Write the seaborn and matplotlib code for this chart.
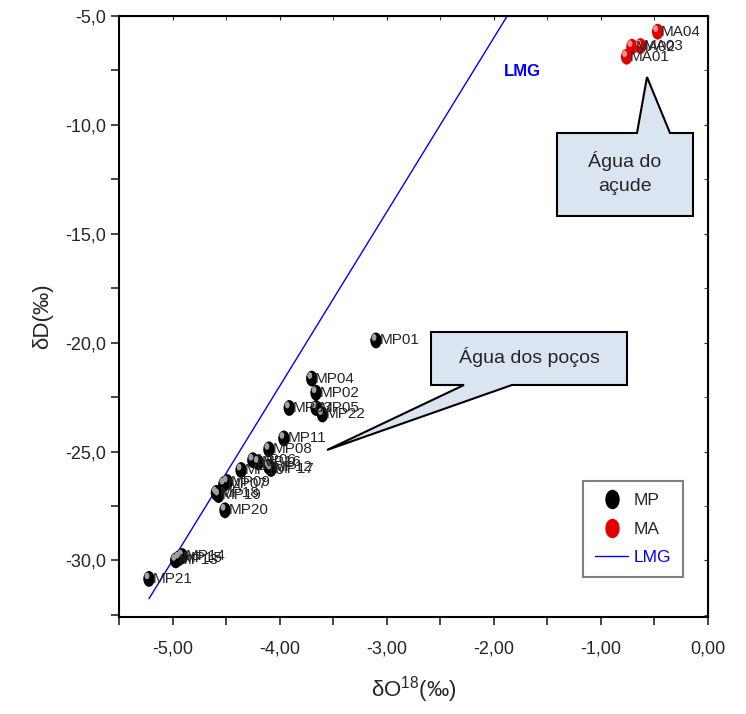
import matplotlib
matplotlib.use("Agg")
import matplotlib.pyplot as plt
import seaborn as sns
import pandas as pd
from matplotlib import font_manager
from matplotlib.path import Path
from matplotlib.patches import Polygon
from matplotlib.lines import Line2D
from matplotlib.transforms import Affine2D, offset_copy
from matplotlib.ticker import MultipleLocator, FuncFormatter

# poços (MP)
mp_labels = ["MP01", "MP02", "MP03", "MP04", "MP05", "MP06", "MP07", "MP08",
             "MP09", "MP10", "MP11", "MP12", "MP13", "MP14", "MP15", "MP16",
             "MP17", "MP18", "MP19", "MP20", "MP21", "MP22"]
mp_o18 = [-3.10, -3.66, -3.91, -3.70, -3.66, -4.25, -4.52, -4.10,
          -4.49, -4.36, -3.96, -4.10, -4.97, -4.91, -4.94, -4.20,
          -4.08, -4.59, -4.57, -4.51, -5.22, -3.60]
mp_d = [-19.9, -22.3, -23.0, -21.65, -23.0, -25.4, -26.5, -24.9,
        -26.4, -25.85, -24.4, -25.7, -30.0, -29.8, -29.9, -25.5,
        -25.8, -26.9, -27.0, -27.7, -30.85, -23.3]

# açude (MA)
ma_labels = ["MA01", "MA02", "MA03", "MA04"]
ma_o18 = [-0.76, -0.71, -0.63, -0.47]
ma_d = [-6.87, -6.41, -6.38, -5.72]

# reta meteórica (LMG)
lmg_o18 = [-5.22, -1.875]
lmg_d = [-31.76, -5.0]

mp = pd.DataFrame({"o18": mp_o18, "d": mp_d, "label": mp_labels})
ma = pd.DataFrame({"o18": ma_o18, "d": ma_d, "label": ma_labels})
lmg = pd.DataFrame({"o18": lmg_o18, "d": lmg_d})

sns.set_style("ticks")
names = {f.name for f in font_manager.fontManager.ttflist}
narrow = "Liberation Sans Narrow" if "Liberation Sans Narrow" in names else "Liberation Sans"
plt.rcParams["font.family"] = ["Liberation Sans", "DejaVu Sans"]
plt.rcParams["mathtext.default"] = "regular"

fig = plt.figure(figsize=(7.46, 7.14), dpi=100)
ax = fig.add_axes([119 / 746, 1 - 617 / 714, 589 / 746, 601 / 714])

ell = Path.unit_circle().transformed(Affine2D().scale(0.72, 1.0))
hl = offset_copy(ax.transData, fig=fig, x=-2, y=3, units="dots")

sns.lineplot(data=lmg, x="o18", y="d", color="blue", lw=1, ax=ax, zorder=2)

sns.scatterplot(data=mp, x="o18", y="d", marker=ell, s=130, color="black",
                edgecolor="none", ax=ax, zorder=3)
ax.scatter(mp["o18"], mp["d"], marker=ell, s=24, color="#a0a0a0",
           edgecolor="none", transform=hl, zorder=4)
sns.scatterplot(data=ma, x="o18", y="d", marker=ell, s=130, color="#e00000",
                edgecolor="none", ax=ax, zorder=3)
ax.scatter(ma["o18"], ma["d"], marker=ell, s=24, color="#ff9090",
           edgecolor="none", transform=hl, zorder=4)

for df in (mp, ma):
    for x, y, t in zip(df["o18"], df["d"], df["label"]):
        ax.annotate(t, (x, y), xytext=(2.5, 0), textcoords="offset points",
                    va="center", ha="left", fontsize=11, family=narrow,
                    zorder=5)

ax.text(-1.73, -7.55, "LMG", color="blue", fontsize=12, fontweight="bold",
        family=narrow, ha="center", va="center")

ax.set_xlim(-5.5, 0)
ax.set_ylim(-32.6, -5.0)
ax.xaxis.set_major_locator(MultipleLocator(1.0))
ax.xaxis.set_minor_locator(MultipleLocator(0.5))
ax.yaxis.set_major_locator(MultipleLocator(5.0))
ax.yaxis.set_minor_locator(MultipleLocator(2.5))
ax.xaxis.set_major_formatter(FuncFormatter(lambda v, p: f"{v:.2f}".replace(".", ",")))
ax.yaxis.set_major_formatter(FuncFormatter(lambda v, p: f"{v:.1f}".replace(".", ",")))
ax.tick_params(which="both", direction="out", top=False, right=False, width=1.2,
               labelsize=13, length=6)
ax.tick_params(axis="x", pad=11)
ax.tick_params(axis="y", pad=3)
for lab in ax.get_xticklabels() + ax.get_yticklabels():
    lab.set_family(narrow)
sec = ax.secondary_xaxis("top")
sec.set_xticks([-5, -4, -3, -2, -1, 0], labels=[])
sec.xaxis.set_minor_locator(MultipleLocator(0.5))
sec.tick_params(which="both", direction="in", length=3)
sec2 = ax.secondary_yaxis("right")
sec2.set_yticks([-30, -25, -20, -15, -10, -5], labels=[])
sec2.yaxis.set_minor_locator(MultipleLocator(2.5))
sec2.tick_params(which="both", direction="in", length=3)
for s in ax.spines.values():
    s.set_linewidth(1.5)
    s.set_color("black")

ax.set_xlabel("δO$^{18}$(‰)", fontsize=16, family=narrow, labelpad=12)
ax.set_ylabel("δD(‰)", fontsize=16, family=narrow, labelpad=9)


def callout(pts, tx, ty, text):
    verts = [((px - 119) / 589, (617 - py) / 601) for px, py in pts]
    ax.add_patch(Polygon(verts, closed=True, transform=ax.transAxes,
                         facecolor="#dbe5f1", edgecolor="black", lw=1.5,
                         zorder=6, clip_on=False))
    ax.text((tx - 119) / 589, (617 - ty) / 601, text, transform=ax.transAxes,
            ha="center", va="center", fontsize=14, linespacing=1.5, zorder=7)


callout([(557, 133), (637, 133), (647, 77), (670, 133), (693, 133),
         (693, 216), (557, 216)], 625, 173, "Água do\naçude")
callout([(431, 332), (627, 332), (627, 385), (512, 385), (327, 450),
         (464, 385), (431, 385)], 529, 357, "Água dos poços")

handles = [
    Line2D([], [], marker=ell, ls="none", color="black", markersize=13),
    Line2D([], [], marker=ell, ls="none", color="#e00000", markersize=13),
    Line2D([], [], color="blue", lw=1),
]
leg = ax.legend(handles, ["MP", "MA", "LMG"], loc="upper left",
                bbox_to_anchor=(0.788, 0.226), frameon=True, fancybox=False,
                edgecolor="#808080", framealpha=1,
                prop={"family": narrow, "size": 12.5}, handlelength=1.9,
                borderpad=0.7, labelspacing=0.75, handletextpad=0.3,
                borderaxespad=0)
leg.get_frame().set_linewidth(1.5)
leg.get_texts()[2].set_color("blue")

fig.savefig("out.png", dpi=100, facecolor="white")
